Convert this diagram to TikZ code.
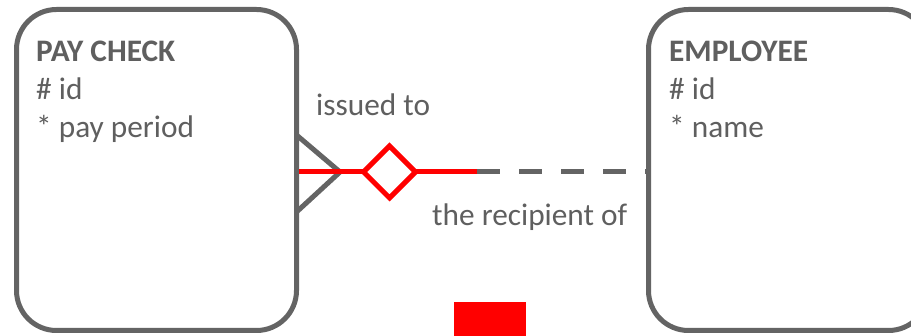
\documentclass[tikz,border=0pt]{standalone}
\usepackage{fontspec}
\setmainfont{Carlito}
\usetikzlibrary{shapes.geometric}
\definecolor{ergray}{HTML}{646464}
\definecolor{ertext}{HTML}{5F5F5F}
\begin{document}
\begin{tikzpicture}[x=1pt,y=-1pt,
  entity/.style={draw=ergray,line width=5pt,rounded corners=40pt,minimum width=280pt,minimum height=321pt,inner sep=0pt},
  lbl/.style={anchor=base west,inner sep=0pt,text=ertext,font=\fontsize{31.3}{37}\selectfont},
  bold lbl/.style={lbl,font=\fontsize{31.3}{37}\selectfont\bfseries},
  reln/.style={draw=red,line width=5pt},
  optl/.style={draw=ergray,line width=5pt,dash pattern=on 23pt off 19pt},
  footl/.style={draw=ergray,line width=5pt}]
\useasboundingbox (0,0) rectangle (911,336);
\clip (0,0) rectangle (911,336);
\fill[white] (0,0) rectangle (911,336);
% entities
\node[entity] (pay) at (156.5,170) {};
\node[entity] (emp) at (788.5,170) {};
\node[bold lbl] (payt) at (36,62) {PAY CHECK};
\node[lbl] (pay1) at (36,100) {\# id};
\node[lbl] (pay2) at (36,138) {* pay period};
\node[bold lbl] (empt) at (669,62) {EMPLOYEE};
\node[lbl] (emp1) at (669,100) {\# id};
\node[lbl] (emp2) at (669,138) {* name};
% relationship
\coordinate (foot) at (340,172);
\coordinate (ftop) at (296.5,135);
\coordinate (fbot) at (296.5,212);
\coordinate (mid) at (477,172);
\draw[footl] (ftop) -- (foot) -- (fbot);
\draw[reln] (pay.east |- foot) -- (mid);
\draw[optl] (mid) -- (emp.west |- mid);
\node[diamond,aspect=1,draw=red,line width=5pt,fill=white,minimum width=54pt,minimum height=54pt,inner sep=0pt] (dia) at (389.5,172) {};
\node[lbl] (iss) at (316,116) {issued to};
\node[lbl] (rec) at (432,226) {the recipient of};
\node[fill=red,minimum width=72pt,minimum height=40pt,inner sep=0pt,anchor=north west] (sq) at (454,302) {};
\end{tikzpicture}
\end{document}
